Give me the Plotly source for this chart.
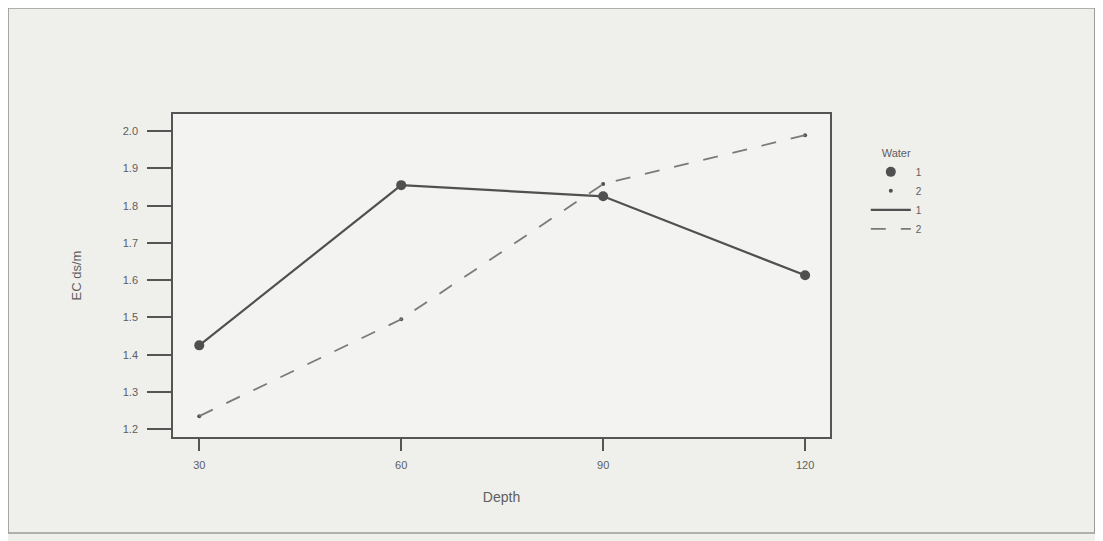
import plotly.graph_objects as go

depth = [30, 60, 90, 120]
water1 = [1.425, 1.855, 1.825, 1.613]
water2 = [1.235, 1.495, 1.858, 1.989]
y_ticks = [1.2, 1.3, 1.4, 1.5, 1.6, 1.7, 1.8, 1.9, 2.0]
y_tick_labels = ["1.2", "1.3", "1.4", "1.5", "1.6", "1.7", "1.8", "1.9", "2.0"]
x_ticks = [30, 60, 90, 120]
x_tick_labels = ["30", "60", "90", "120"]

dark = "#505050"
mid = "#7a7a7a"
txt = "#5e5e5e"
font = "Liberation Sans, Arial, sans-serif"

fig = go.Figure()
fig.add_trace(go.Scatter(x=depth, y=water1, mode="markers", name="1",
                         marker=dict(size=10, color=dark)))
fig.add_trace(go.Scatter(x=depth, y=water2, mode="markers", name="2",
                         marker=dict(size=4, color=dark)))
fig.add_trace(go.Scatter(x=depth, y=water1, mode="lines", name="1",
                         line=dict(color=dark, width=2.2)))
fig.add_trace(go.Scatter(x=depth, y=water2, mode="lines", name="2",
                         line=dict(color=mid, width=1.8, dash="longdash")))

fig.update_layout(
    width=1103, height=541,
    margin=dict(l=165, r=281, t=106, b=112),
    paper_bgcolor="#efefec",
    plot_bgcolor="#f3f3f1",
    font=dict(family=font, color=txt, size=11),
    showlegend=True,
    legend=dict(
        title=dict(text="Water", font=dict(size=11, color=txt), side="top center"),
        x=1.0545, y=0.91, xanchor="left", yanchor="top",
        bgcolor="rgba(0,0,0,0)", font=dict(size=10, color=txt),
        tracegroupgap=0, itemwidth=40,
    ),
    xaxis=dict(
        range=[26.1, 123.7], tickvals=x_ticks, ticktext=x_tick_labels,
        showgrid=False, zeroline=False, showline=True, linecolor="#555",
        linewidth=1.5, mirror=True, ticks="outside", ticklen=12, tickwidth=1.5,
        tickcolor="#555", tickfont=dict(size=11, color=txt), ticklabelstandoff=5,
        title=dict(text="Depth", font=dict(size=14, color=txt), standoff=22),
    ),
    yaxis=dict(
        range=[1.179, 2.046], tickvals=y_ticks, ticktext=y_tick_labels,
        showgrid=False, zeroline=False, showline=True, linecolor="#555",
        linewidth=1.5, mirror=True, ticks="outside", ticklen=24, tickwidth=1.5,
        tickcolor="#555", tickfont=dict(size=11, color=txt), ticklabelstandoff=7,
        title=dict(text="EC ds/m", font=dict(size=13, color=txt), standoff=38),
    ),
)

# outer frame of the figure
fig.add_shape(type="rect", xref="paper", yref="paper",
              x0=-0.251, x1=1.403, y0=-0.297, y1=1.328,
              line=dict(color="#9a9a9a", width=1.5), fillcolor="rgba(0,0,0,0)",
              layer="below")

fig.write_html("out.html")
